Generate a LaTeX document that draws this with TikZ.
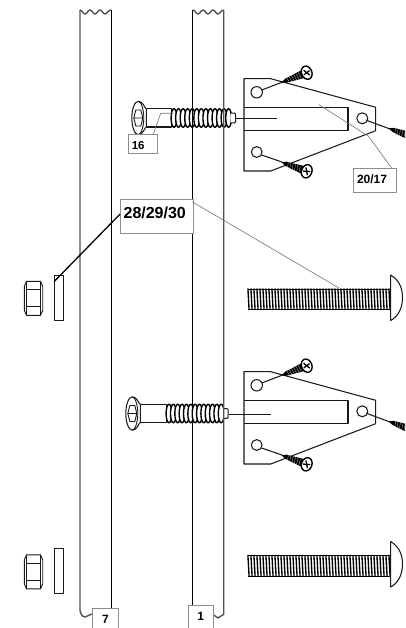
\documentclass[tikz,border=0pt]{standalone}
\usepackage{fontspec}
\setmainfont{Liberation Sans}
\newcommand{\tagtext}[4]{\makebox[0pt]{\raisebox{#3pt}[0pt][0pt]{\kern#2pt\fontsize{#1}{#1}\selectfont #4}}}
\begin{document}
\begin{tikzpicture}[x=1pt,y=-1pt,line join=round,
  post/.style={line width=1.4pt,draw=black!68},
  postin/.style={line width=1.05pt,draw=black},
  part/.style={line width=1.05pt,draw=black!90},
  lead/.style={line width=0.6pt,draw=black!55},
  tag/.style={draw=black!45,line width=0.8pt,fill=white,font=\bfseries,inner sep=0pt,anchor=north west,align=center},
  woodscrew/.pic={
    \fill[black] (3,-4.2) -- (22,-2.2) -- (27,0) -- (22,2.2) -- (3,4.2) -- cycle;
    \foreach \k in {7,9.5,...,21} \draw[white,line width=0.2pt] (\k,-3) -- (\k+0.9,3);
    \draw[fill=white,line width=1.4pt] (0,0) ellipse [x radius=5.2,y radius=6.8];
    \draw[line width=1.3pt] (-2,-3.4) -- (2,3.4) (-3.4,1) -- (3.4,-1);
  },
  plate/.pic={
    \draw[part,fill=white] (244,78.7) -- (270.7,78.7) -- (375.7,107.3) -- (375.7,130.7) -- (270.7,171) -- (244,171) -- cycle;
    \draw[part] (244,107.5) -- (348,107.5) -- (348,130.5) -- (244,130.5);
    \draw[part,fill=white] (256.7,92.3) circle [radius=5.7];
    \draw[part,fill=white] (256.7,152) circle [radius=5.4];
    \draw[part,fill=white] (362.3,118.3) circle [radius=5.5];
    \draw[part] (261.7,90) -- (284,81.5);
    \draw[part] (261.5,155) -- (282,162);
    \draw[part] (367,120.5) -- (390,129);
    \path (306.7,72.7) pic[rotate=201] {woodscrew};
    \path (306.7,171.3) pic[rotate=160] {woodscrew};
    \path (414,137.5) pic[rotate=160] {woodscrew};
  },
  nut/.pic={
    \draw[part,line width=0.9pt] (-9.2,-12) -- (-9.2,12) -- (-7,17) -- (7,17) -- (9.2,12) -- (9.2,-12) -- (7,-17) -- (-7,-17) -- cycle;
    \draw[part,line width=0.9pt] (-7,-17) -- (-7,17) (7,-17) -- (7,17) (-7,-8.5) -- (7,-8.5) (-7,8.5) -- (7,8.5);
  },
  bolt/.pic={
    \foreach \k in {0,3,...,141} \draw[black,line width=1.35pt] (247.9+\k,0) -- (249.1+\k,21.5);
    \draw[black,line width=0.6pt] (247.5,0.3) -- (390.7,0.3) (247.5,21.2) -- (390.7,21.2);
    \draw[part,fill=white] (390.7,-13.5) .. controls (398,-9) and (402.5,-2) .. (402.5,9) .. controls (402.5,20) and (398,28) .. (390.7,32) -- cycle;
  },
  capscrew/.pic={
    \draw[part,fill=white] (7,-9.2) -- (\lenS,-9.2) -- (\lenS,9) -- (7,9);
    \draw[part,fill=white] (0,-16.7) .. controls (5,-16.7) and (6,-10) .. (8,-9.2) -- (8,9) .. controls (6,10) and (5,16.7) .. (0,16.7) .. controls (-4,16.7) and (-6.5,8) .. (-6.5,0) .. controls (-6.5,-8) and (-4,-16.7) .. (0,-16.7) -- cycle;
    \draw[part,line width=0.9pt] (0,-16.7) .. controls (3,-16.7) and (5.5,-8) .. (5.5,0) .. controls (5.5,8) and (3,16.7) .. (0,16.7);
    \draw[part,line width=0.9pt] (-2.5,-8) -- (2.5,-8) -- (4.5,0) -- (2.5,8) -- (-2.5,8) -- (-4.5,0) -- cycle (-4.5,0) -- (4.5,0);
    \foreach \k in {0,1,...,12}
      \draw[black,line width=1.4pt,fill=white] (\lenS+2.3+\k*\stepS,0) ellipse [x radius=2.9,y radius=9.3];
    \draw[part,fill=white,rounded corners=1pt] (\lenS+2.3+12*\stepS+2.6,-4.8) -- (\lenS+2.3+12*\stepS+7,-4.8) -- (\lenS+2.3+12*\stepS+7,4.8) -- (\lenS+2.3+12*\stepS+2.6,4.8);
  }]
\useasboundingbox (0,0) rectangle (405,628);
\clip (0,0) rectangle (405,628);
% fasteners through the posts
\def\lenS{33.4}\def\stepS{4.55}
\path (138.3,118) pic {capscrew};
\def\lenS{34.4}\def\stepS{4.35}
\path (132.3,413.5) pic {capscrew};
% plates
\path (0,0) pic {plate};
\path (0,293) pic {plate};
\draw[part] (235.3,118.5) -- (276.7,118.5);
\draw[part] (229.3,414.5) -- (270.7,414.5);
% posts
\draw[post] (80,10) .. controls (82,10) and (83,14) .. (85,14) .. controls (87,14) and (88,10) .. (90,10) .. controls (92,10) and (93,14) .. (95,14) .. controls (97,14) and (98,10) .. (100,10) .. controls (102,10) and (103,14) .. (105,14) .. controls (107,14) and (108,10) .. (111.4,10);
\draw[post] (80,10) -- (80,610) .. controls (80,612.5) and (82,617) .. (85,617) .. controls (88,617) and (89,614) .. (91.7,614);
\draw[postin] (111.4,10) -- (111.4,609);
\draw[post] (192.7,10) .. controls (195,10) and (196,14) .. (198,14) .. controls (200,14) and (201,10) .. (203,10) .. controls (205,10) and (206,14) .. (208,14) .. controls (210,14) and (211,10) .. (213,10) .. controls (215,10) and (216,14) .. (218,14) .. controls (220,14) and (221,10) .. (223.7,10);
\draw[postin] (192.8,10) -- (192.8,606);
\draw[post] (223.7,10) -- (223.7,614.5) .. controls (221,614.5) and (220,618) .. (218,618) .. controls (216,618) and (215,614.5) .. (213,614.5);
% bolts, washers and nuts
\path (0,288.5) pic {bolt};
\path (0,555) pic {bolt};
\draw[part] (54.5,275.5) rectangle (63.5,320.5);
\draw[part] (54.5,548.5) rectangle (63.5,593.5);
\path (33.5,298.3) pic {nut};
\path (33.5,571.8) pic {nut};
% labels
\node[tag,minimum width=29pt,minimum height=18.5pt] (t16) at (128.3,134.5) {\tagtext{11.5}{-10}{-5}{16}};
\node[tag,minimum width=42.7pt,minimum height=24pt] (t20) at (353.3,168.3) {\tagtext{12}{-6}{-3}{20/17}};
\node[tag,minimum width=72.7pt,minimum height=33.5pt] (t28) at (120,199.5) {\tagtext{16}{-4}{-2}{28/29/30}};
\node[tag,minimum width=26.6pt,minimum height=24pt] (t7) at (91.7,608.3) {\tagtext{12}{0}{-2.7}{7}};
\node[tag,minimum width=25pt,minimum height=27pt] (t1) at (187.7,605.3) {\tagtext{12}{0}{-1.2}{1}};
% leaders
\coordinate (e16) at (173.3,113.3);
\coordinate (e20) at (319,104.7);
\coordinate (e28a) at (339,288);
\coordinate (e28b) at (54,281.7);
\draw[lead] ([xshift=10pt]t16.south |- t16.north) -- (160.7,113.3) -- (e16);
\draw[lead] (t20.north east) ++(-5,0) -- (368.3,136) -- (e20);
\draw[lead] (t28.north east) ++(-1,2.5) -- (e28a);
\draw[black,line width=1.3pt] (t28.west) ++(0,-2.5) -- (e28b);
\end{tikzpicture}
\end{document}
